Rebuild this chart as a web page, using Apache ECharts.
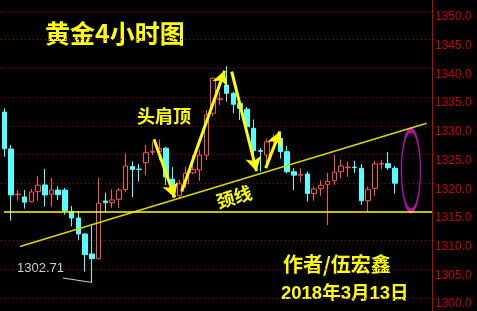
<!DOCTYPE html>
<html><head><meta charset="utf-8">
<script src="https://cdn.jsdelivr.net/npm/echarts@6/dist/echarts.min.js"></script>
<style>html,body{margin:0;padding:0;background:#000;}#c{width:477px;height:311px;}</style>
</head><body><div id="c"></div>
<script>
// candles: [open, close, low, high]
const categories = Array.from({length: 64}, (_, i) => String(i + 1));
const opens  = [1332.4,1325.96,1318.0,1317.6,1316.78,1318.52,1319.7,1318.07,1318.8,1318.8,1315.1,1313.94,1311.15,1307.67,1306.85,1316.9,1316.61,1317.2,1318.9,1322.9,1322.45,1323.57,1325.4,1325.5,1326.1,1320.7,1317.8,1319.9,1321.8,1322.3,1324.9,1332.2,1334.6,1337.1,1335.66,1333.9,1332.9,1329.56,1325.7,1324.9,1327.4,1327.8,1325.5,1322.0,1321.4,1321.6,1318.2,1319.05,1319.8,1320.44,1322.0,1322.7,1322.8,1322.6,1316.95,1319.1,1323.35,1323.4,1322.6];
const closes = [1326.0,1317.95,1318.1,1316.7,1318.47,1319.64,1317.95,1318.8,1318.0,1315.2,1313.94,1311.15,1307.55,1306.85,1316.5,1316.6,1317.08,1318.8,1323.0,1322.4,1322.4,1325.3,1325.5,1326.0,1321.1,1318.3,1319.9,1321.7,1322.4,1324.9,1331.9,1338.28,1334.7,1335.66,1333.75,1333.05,1329.85,1325.66,1325.55,1327.2,1327.9,1325.5,1322.0,1321.4,1321.55,1318.2,1319.0,1319.64,1320.3,1321.9,1323.0,1322.8,1322.7,1316.95,1318.94,1323.35,1323.4,1322.7,1320.0];
const lows   = [1324.6,1313.47,1316.95,1315.56,1316.7,1316.95,1315.9,1315.9,1317.07,1314.5,1312.5,1310.1,1304.6,1302.71,1306.7,1315.0,1315.7,1315.7,1318.5,1317.55,1320.3,1321.4,1324.9,1324.0,1319.7,1317.5,1317.4,1319.2,1321.6,1320.4,1324.0,1331.7,1333.6,1334.2,1332.2,1331.0,1329.0,1324.6,1322.0,1323.5,1327.0,1324.3,1321.7,1318.8,1320.1,1316.8,1316.95,1317.8,1312.7,1319.7,1320.85,1321.1,1321.8,1316.2,1315.0,1317.8,1322.4,1322.3,1318.2];
const highs  = [1333.05,1326.66,1318.8,1318.8,1318.99,1321.26,1322.48,1320.9,1319.5,1319.17,1316.03,1315.1,1311.27,1312.7,1320.96,1318.35,1318.94,1319.2,1325.2,1323.8,1323.35,1326.66,1327.2,1327.6,1326.3,1322.8,1320.6,1322.9,1324.9,1325.8,1332.75,1338.4,1335.9,1340.4,1335.94,1334.5,1333.3,1331.1,1326.1,1327.8,1328.5,1329.0,1326.5,1322.6,1322.6,1322.0,1319.4,1320.5,1321.8,1324.9,1324.1,1323.75,1323.9,1323.35,1319.4,1323.9,1324.0,1325.45,1323.0];
const yTicks = [1300, 1350, 5];
const supportLevel = 1315.0;
const neckline = [[2.32, 1308.98], [62.7, 1330.46]];
const arrows = [
  [[22.22, 1327.67], [25.3, 1317.5]],
  [[26.33, 1318.55], [32.7, 1339.6]],
  [[33.76, 1339.44], [37.45, 1322.1]],
  [[38.81, 1322.62], [40.9, 1329.0]]
];
const lowPointer = [[8.71, 1303.48], [13, 1302.71]];
const circleMark = [60.38, 1322.24];

const candleData = opens.map((o, i) => [o, closes[i], lows[i], highs[i]]);
const chart = echarts.init(document.getElementById('c'), null, {renderer: 'canvas'});
const RED = '#ff5252', CYAN = '#54ffff', YEL = '#ffff00';
chart.setOption({
  backgroundColor: '#000',
  animation: false,
  grid: {left: 1, right: 45, top: 11, bottom: 13},
  xAxis: [
    {type: 'category', data: categories, show: false, boundaryGap: true},
    {type: 'value', min: -0.5, max: 63.5, show: false}
  ],
  yAxis: {
    type: 'value', position: 'right', min: yTicks[0], max: yTicks[1], interval: yTicks[2],
    axisLine: {show: true, onZero: false, lineStyle: {color: '#cc0000', width: 1}},
    axisTick: {show: true, length: 2, lineStyle: {color: '#cc0000'}},
    axisLabel: {color: '#cc0000', fontSize: 12, fontFamily: 'Liberation Sans', margin: 3, verticalAlign: 'top',
      formatter: v => v.toFixed(1)},
    splitLine: {show: true, lineStyle: {color: '#a00000', type: [1, 3], width: 1}}
  },
  series: [
    {
      type: 'candlestick', data: candleData, barWidth: 5, silent: true,
      itemStyle: {color: '#000', color0: CYAN, borderColor: RED, borderColor0: CYAN, borderColorDoji: RED, borderWidth: 1}
    },
    {
      type: 'line', xAxisIndex: 1, data: neckline, symbol: 'none', silent: true,
      lineStyle: {color: '#d8d800', width: 1.5},
      markLine: {
        silent: true, symbol: ['none', 'none'], label: {show: false},
        data: [
          [{coord: [-0.05, supportLevel], lineStyle: {color: YEL, width: 1.6, type: 'solid'}}, {coord: [63.5, supportLevel]}],
          [{coord: lowPointer[0], lineStyle: {color: '#d0d0d0', width: 1, type: 'solid'}}, {coord: lowPointer[1]}]
        ]
      }
    },
    {
      type: 'line', xAxisIndex: 1, data: [], symbol: 'none', silent: true,
      markLine: {
        silent: true, symbol: ['none', 'arrow'], symbolSize: [12, 14], label: {show: false},
        lineStyle: {color: YEL, width: 3, type: 'solid'},
        itemStyle: {color: YEL},
        data: arrows.map(a => [{coord: a[0]}, {coord: a[1]}])
      }
    },
    {
      type: 'scatter', xAxisIndex: 1, data: [circleMark], symbol: 'circle', symbolSize: [19, 81], silent: true,
      itemStyle: {color: 'rgba(0,0,0,0)', borderColor: '#e010e0', borderWidth: 2.5}
    }
  ],
  graphic: [
    {type: 'line', shape: {x1: 432.5, y1: 0, x2: 432.5, y2: 311}, style: {stroke: '#cc0000', lineWidth: 1}, z: 10},
    {type: 'text', left: 45, top: 21, style: {text: '黄金4小时图', fill: YEL, font: 'bold 25px "Noto Sans CJK SC"'}},
    {type: 'text', left: 137, top: 107, style: {text: '头肩顶', fill: YEL, font: 'bold 18px "Noto Sans CJK SC"'}},
    {type: 'text', x: 234, y: 197, rotation: 0.29, style: {text: '颈线', fill: YEL, font: 'bold 18px "Noto Sans CJK SC"', align: 'center', verticalAlign: 'middle'}},
    {type: 'text', left: 283, top: 254, style: {text: '作者/伍宏鑫', fill: YEL, font: 'bold 20px "Noto Sans CJK SC"'}},
    {type: 'text', left: 281, top: 285, style: {text: '2018年3月13日', fill: YEL, font: 'bold 18.5px "Liberation Sans", "Noto Sans CJK SC"'}},
    {type: 'text', left: 17, top: 262, style: {text: '1302.71', fill: '#c8d2dc', font: '13px "Liberation Sans"'}}
  ]
});
</script></body></html>
